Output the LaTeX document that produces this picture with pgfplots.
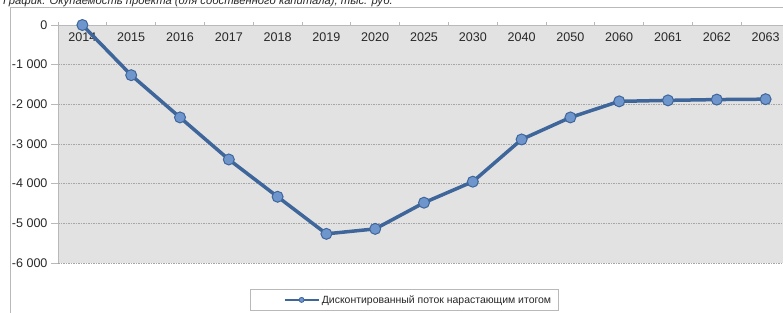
\documentclass[border=0pt]{standalone}
\usepackage{pgfplots}
\pgfplotsset{compat=1.18}
\usepackage{fontspec}
\setmainfont{Liberation Sans}
\definecolor{bgc}{RGB}{226,226,226}
\definecolor{linec}{RGB}{62,102,155}
\definecolor{markc}{RGB}{110,150,205}
\definecolor{framec}{RGB}{185,185,185}
\definecolor{txt}{RGB}{40,40,40}
\begin{document}
\begin{tikzpicture}
\useasboundingbox (0,0) rectangle (783bp,313bp);
\draw[framec, line width=1bp] (10bp,0) -- (10bp,305bp) -- (790bp,305bp);
\node[anchor=base west, inner sep=0pt, text=txt, font=\itshape\fontsize{11.3}{13}\selectfont] at (3bp,308.5bp) {График. Окупаемость проекта (для собственного капитала), тыс. руб.};
\begin{axis}[
  at={(58bp,50bp)}, anchor=south west,
  scale only axis, width=732bp, height=238bp,
  xmin=-0.5, xmax=14.5, ymin=-6000, ymax=0,
  clip=false,
  axis x line*=top, axis y line*=left,
  axis line style={framec, line width=0.8bp},
  axis background/.style={fill=bgc},
  xtick={0,...,14},
  xticklabels={2014,2015,2016,2017,2018,2019,2020,2025,2030,2040,2050,2060,2061,2062,2063},
  xticklabel style={anchor=north, yshift=-11bp, text=txt, font=\fontsize{12.6}{14}\selectfont},
  major x tick style={draw=none},
  minor xtick={-0.5,0.5,...,14.5},
  minor tick length=3bp,
  tick align=outside,
  minor x tick style={framec, line width=0.8bp},
  ytick={-6000,-5000,-4000,-3000,-2000,-1000,0},
  yticklabels={-6 000,-5 000,-4 000,-3 000,-2 000,-1 000,0},
  yticklabel style={text=txt, font=\fontsize{12.6}{14}\selectfont},
  major y tick style={framec, line width=0.8bp},
  major tick length=7bp,
  ymajorgrids,
  grid style={gray!70, dash pattern=on 1.5bp off 1bp, line width=0.6bp},
  legend style={at={(0.4727,-0.155)}, anchor=center, draw=framec, line width=0.6bp,
    font=\fontsize{10.5}{12}\selectfont, text=txt, inner xsep=5bp, inner ysep=4bp},
  legend image code/.code={
    \path (0bp,0bp);
    \draw[linec, line width=2.5bp] (28bp,0bp) -- (62bp,0bp);
    \draw[linec, fill=markc, line width=0.8bp] (45bp,0bp) circle (2.5bp);
  },
]
\addplot[linec, line width=3.5bp, mark=*, mark size=5.5bp,
  mark options={fill=markc, draw=linec, line width=1bp}]
  coordinates {
  (0,0) (1,-1265) (2,-2330) (3,-3390) (4,-4330) (5,-5265) (6,-5140)
  (7,-4480) (8,-3950) (9,-2885) (10,-2330) (11,-1925) (12,-1900) (13,-1880) (14,-1870)
  };
\addlegendentry{Дисконтированный поток нарастающим итогом}
\end{axis}
\end{tikzpicture}
\end{document}
